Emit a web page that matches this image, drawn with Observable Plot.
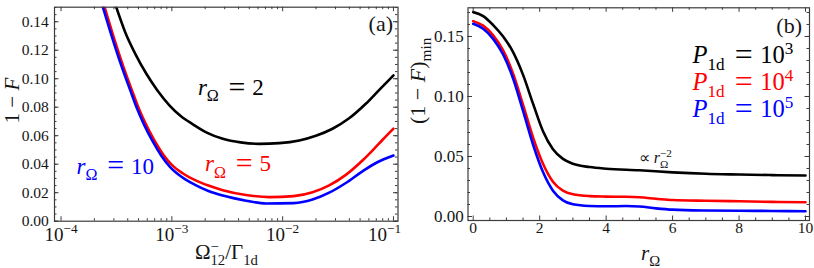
<!DOCTYPE html>
<html><head><meta charset="utf-8">
<script src="https://cdn.jsdelivr.net/npm/d3@7"></script>
<script src="https://cdn.jsdelivr.net/npm/@observablehq/plot@0.6"></script>
<style>
html,body{margin:0;padding:0;background:#fff;}
#fig{display:flex;width:814px;height:268px;overflow:hidden;}
#fig svg{overflow:visible;}
</style></head><body><div id="fig"></div>
<script>
// ---------- Panel (a): 1-F vs Omega/Gamma (log x) ----------
const aSeries = ["rΩ = 2", "rΩ = 5", "rΩ = 10"];
const aColors = ["#000000", "#ff0000", "#0000ff"];
const aLogX_r2  = [-3.505,-3.42,-3.33,-3.23,-3.13,-3.02,-2.92,-2.81,-2.68,-2.54,-2.38,-2.21,-2.03,-1.85,-1.70,-1.55,-1.40,-1.25,-1.13,-1.00];
const aVal_r2   = [0.1510,0.1325,0.1175,0.1035,0.0918,0.0812,0.0738,0.0680,0.0620,0.0578,0.0553,0.0543,0.0548,0.0567,0.0600,0.0649,0.0722,0.0824,0.0920,0.1023];
const aLogX_r5  = [-3.61,-3.52,-3.44,-3.36,-3.30,-3.24,-3.16,-3.08,-3.00,-2.90,-2.79,-2.67,-2.54,-2.33,-2.12,-1.90,-1.73,-1.58,-1.43,-1.28,-1.19,-1.10,-1.00];
const aVal_r5   = [0.1510,0.1280,0.1090,0.0918,0.0795,0.0690,0.0570,0.0470,0.0395,0.0335,0.0288,0.0250,0.0218,0.0184,0.0169,0.0176,0.0203,0.0251,0.0325,0.0426,0.0496,0.0570,0.0650];
const aLogX_r10 = [-3.625,-3.535,-3.455,-3.375,-3.315,-3.255,-3.175,-3.095,-3.015,-2.91,-2.79,-2.67,-2.54,-2.33,-2.15,-1.90,-1.73,-1.58,-1.43,-1.28,-1.15,-1.00];
const aVal_r10  = [0.1510,0.1280,0.1090,0.0918,0.0792,0.0685,0.0563,0.0460,0.0380,0.0310,0.0255,0.0212,0.0180,0.0144,0.0124,0.0127,0.0152,0.0200,0.0268,0.0350,0.0412,0.0461];
const aXTicks = [1e-4, 1e-3, 1e-2, 1e-1];
const aXTickLabels = ["10^−4", "10^−3", "10^−2", "10^−1"];
const aYTicks = [0, 0.02, 0.04, 0.06, 0.08, 0.10, 0.12, 0.14];

// ---------- Panel (b): (1-F)min vs r_Omega ----------
const bSeries = ["P1d = 10^3", "P1d = 10^4", "P1d = 10^5"];
const bColors = ["#000000", "#ff0000", "#0000ff"];
const bR_p3 = [0,0.3,0.6,0.9,1.2,1.5,1.8,2.1,2.4,2.7,3.0,3.5,4.0,5.0,6.0,7.0,8.0,9.0,10];
const bV_p3 = [0.1703,0.1670,0.1595,0.1500,0.1370,0.1180,0.0940,0.0710,0.0560,0.0480,0.0440,0.0412,0.0398,0.0385,0.0368,0.0356,0.0350,0.0345,0.0342];
const bR_p4 = [0,0.3,0.6,0.9,1.2,1.5,1.8,2.1,2.4,2.7,3.0,3.5,4.0,4.6,5.0,5.5,6.0,7.0,8.0,9.0,10];
const bV_p4 = [0.1628,0.1590,0.1510,0.1385,0.1190,0.0930,0.0660,0.0440,0.0290,0.0215,0.0185,0.0170,0.0166,0.0164,0.0160,0.0148,0.0137,0.0131,0.0127,0.0122,0.0119];
const bR_p5 = [0,0.3,0.6,0.9,1.2,1.5,1.8,2.1,2.4,2.7,3.0,3.5,4.0,4.6,5.0,5.5,6.0,7.0,8.0,9.0,10];
const bV_p5 = [0.1606,0.1565,0.1480,0.1350,0.1150,0.0880,0.0600,0.0370,0.0215,0.0135,0.0102,0.0088,0.0085,0.0087,0.0083,0.0068,0.0057,0.0050,0.0048,0.0046,0.0044];
const bXTicks = [0, 2, 4, 6, 8, 10];
const bYTicks = [0, 0.05, 0.10, 0.15];

// ---------- rich-text definitions (sub/superscripts, italics) ----------
const EQ = {t: "=", dx: 0.42, size: 1.3, base: 0.07};
const RICH = {
  "rΩ = 2":  [{t:"r",i:1},{t:"Ω",sub:1},EQ,{t:"2",dx:0.3}],
  "rΩ = 5":  [{t:"r",i:1},{t:"Ω",sub:1},EQ,{t:"5",dx:0.3}],
  "rΩ = 10": [{t:"r",i:1},{t:"Ω",sub:1},EQ,{t:"10",dx:0.3}],
  "P1d = 10^3": [{t:"P",i:1},{t:"1d",sub:1},EQ,{t:"10",dx:0.3},{t:"3",sup:1}],
  "P1d = 10^4": [{t:"P",i:1},{t:"1d",sub:1},EQ,{t:"10",dx:0.3},{t:"4",sup:1}],
  "P1d = 10^5": [{t:"P",i:1},{t:"1d",sub:1},EQ,{t:"10",dx:0.3},{t:"5",sup:1}],
  "1 − F": [{t:"1 − "},{t:"F",i:1}],
  "(1 − F)min": [{t:"(1 − "},{t:"F",i:1},{t:")"},{t:"min",sub:1}],
  "Ω−12/Γ1d": [{t:"Ω"},{t:"−",sup:1},{t:"12",sub:1,stack:1},{t:"/Γ"},{t:"1d",sub:1}],
  "rΩ": [{t:"r",i:1},{t:"Ω",sub:1}],
  "∝ rΩ^−2": [{t:"∝ "},{t:"r",i:1},{t:"−2",sup:1},{t:"Ω",sub:1,stack:1}]
};

const FONT = "Liberation Serif";
const FRAME = "#3c3c3c";
const TXT = "#151515";
const W = 407, H = 268;

function minorLog() {
  const out = [];
  for (const d of [-4, -3, -2]) for (let k = 2; k <= 9; k++) out.push(k * 10 ** d);
  return out;
}
function range(a, b, s) { const o = []; for (let v = a; v <= b + 1e-9; v += s) o.push(+v.toFixed(6)); return o; }

function tickMarks(xMaj, xMin, yMaj, yMin, iw, ih) {
  const L = 4.5, l = 2.5, st = {stroke: FRAME, strokeWidth: 1};
  return [
    Plot.ruleX(xMaj, {x: d => d, insetTop: ih - L, ...st}),
    Plot.ruleX(xMaj, {x: d => d, insetBottom: ih - L, ...st}),
    Plot.ruleX(xMin, {x: d => d, insetTop: ih - l, ...st}),
    Plot.ruleX(xMin, {x: d => d, insetBottom: ih - l, ...st}),
    Plot.ruleY(yMaj, {y: d => d, insetRight: iw - L, ...st}),
    Plot.ruleY(yMaj, {y: d => d, insetLeft: iw - L, ...st}),
    Plot.ruleY(yMin, {y: d => d, insetRight: iw - l, ...st}),
    Plot.ruleY(yMin, {y: d => d, insetLeft: iw - l, ...st})
  ];
}

// ----- build panel (a)
const aM = {top: 6.7, right: 9.5, bottom: 47.3, left: 54};
const aIW = W - aM.left - aM.right, aIH = H - aM.top - aM.bottom;
const aData = [
  ...aLogX_r2.map((l, i) => ({x: 10 ** l, y: aVal_r2[i], s: aSeries[0]})),
  ...aLogX_r5.map((l, i) => ({x: 10 ** l, y: aVal_r5[i], s: aSeries[1]})),
  ...aLogX_r10.map((l, i) => ({x: 10 ** l, y: aVal_r10[i], s: aSeries[2]}))
];
const aLabels = [
  {x: 10 ** -2.765, y: 0.0885, s: aSeries[0]},
  {x: 10 ** -2.70, y: 0.0350, s: aSeries[1]},
  {x: 10 ** -3.86, y: 0.0333, s: aSeries[2]}
];
const plotA = Plot.plot({
  width: W, height: H,
  marginTop: aM.top, marginRight: aM.right, marginBottom: aM.bottom, marginLeft: aM.left,
  x: {type: "log", domain: [10 ** -4.059, 10 ** -0.959], axis: null},
  y: {domain: [0, 0.1502], axis: null},
  color: {domain: aSeries, range: aColors},
  style: {fontFamily: FONT, color: TXT, background: "white", overflow: "visible"},
  marks: [
    Plot.line(aData, {x: "x", y: "y", z: "s", stroke: "s", strokeWidth: 2.6, curve: "monotone-x", clip: true}),
    Plot.frame({stroke: FRAME, strokeWidth: 1.2}),
    ...tickMarks(aXTicks, minorLog(), aYTicks, range(0, 0.15, 0.005), aIW, aIH),
    Plot.text(aLabels, {x: "x", y: "y", text: "s", fill: "s", textAnchor: "start", lineAnchor: "bottom", fontSize: 23}),
    Plot.text(["(a)"], {frameAnchor: "top-right", text: d => d, dx: -5, dy: 23.5, lineAnchor: "bottom", textAnchor: "end", fontSize: 22, fill: TXT}),
    // tick labels
    Plot.text(aYTicks, {y: d => d, text: d => d3.format(".2f")(d), frameAnchor: "left", textAnchor: "end", lineAnchor: "middle", dx: -5.7, fontSize: 15.5, fill: TXT}),
    Plot.text(aXTicks.slice(0, 3), {x: d => d, text: (d, i) => aXTickLabels[i], frameAnchor: "bottom", lineAnchor: "bottom", dy: 19.5, fontSize: 19, fill: TXT}),
    Plot.text(aXTicks.slice(3), {x: d => d, text: () => aXTickLabels[3], frameAnchor: "bottom", lineAnchor: "bottom", dy: 19.5, dx: -9, fontSize: 19, fill: TXT}),
    // axis labels
    Plot.text(["Ω−12/Γ1d"], {x: () => 10 ** -2.508, text: d => d, frameAnchor: "bottom", lineAnchor: "bottom", dy: 38, fontSize: 21, fill: TXT}),
    Plot.text(["1 − F"], {y: () => 0.0686, text: d => d, frameAnchor: "left", rotate: -90, lineAnchor: "middle", dx: -42.5, fontSize: 21, fill: TXT})
  ]
});

// ----- build panel (b)
const bM = {top: 7.3, right: 5, bottom: 48, left: 60.5};
const bIW = W - bM.left - bM.right, bIH = H - bM.top - bM.bottom;
const bData = [
  ...bR_p3.map((r, i) => ({x: r, y: bV_p3[i], s: bSeries[0]})),
  ...bR_p4.map((r, i) => ({x: r, y: bV_p4[i], s: bSeries[1]})),
  ...bR_p5.map((r, i) => ({x: r, y: bV_p5[i], s: bSeries[2]}))
];
const bLegend = [
  {y: 0.1275, s: bSeries[0]},
  {y: 0.1050, s: bSeries[1]},
  {y: 0.0825, s: bSeries[2]}
];
const plotB = Plot.plot({
  width: W, height: H,
  marginTop: bM.top, marginRight: bM.right, marginBottom: bM.bottom, marginLeft: bM.left,
  x: {domain: [-0.157, 10.12], axis: null},
  y: {domain: [-0.00333, 0.1739], axis: null},
  color: {domain: bSeries, range: bColors},
  style: {fontFamily: FONT, color: TXT, background: "white", overflow: "visible"},
  marks: [
    Plot.line(bData, {x: "x", y: "y", z: "s", stroke: "s", strokeWidth: 2.6, curve: "monotone-x", clip: true}),
    Plot.frame({stroke: FRAME, strokeWidth: 1.2}),
    ...tickMarks(bXTicks, range(0.5, 9.5, 0.5).filter(v => v % 2 !== 0), bYTicks, range(0.01, 0.17, 0.01), bIW, bIH),
    Plot.text(bLegend, {x: () => 9.63, y: "y", text: "s", fill: "s", textAnchor: "end", lineAnchor: "bottom", fontSize: 24.5}),
    Plot.text(["∝ rΩ^−2"], {x: () => 4.98, y: () => 0.0442, text: d => d, textAnchor: "start", lineAnchor: "bottom", fontSize: 16, fill: TXT}),
    Plot.text(["(b)"], {frameAnchor: "top-right", text: d => d, dx: -7.5, dy: 25, lineAnchor: "bottom", textAnchor: "end", fontSize: 22, fill: TXT}),
    // tick labels
    Plot.text(bYTicks, {y: d => d, text: d => d3.format(".2f")(d), frameAnchor: "left", textAnchor: "end", lineAnchor: "middle", dx: -4.2, fontSize: 17, fill: TXT}),
    Plot.text(bXTicks, {x: d => d, text: d => String(d), frameAnchor: "bottom", lineAnchor: "bottom", dy: 12, fontSize: 15.5, fill: TXT}),
    // axis labels
    Plot.text(["rΩ"], {x: () => 5.34, text: d => d, frameAnchor: "bottom", lineAnchor: "bottom", dy: 39.5, fontSize: 21, fill: TXT}),
    Plot.text(["(1 − F)min"], {y: () => 0.0771, text: d => d, frameAnchor: "left", rotate: -90, lineAnchor: "middle", dx: -50, fontSize: 22, fill: TXT})
  ]
});

const fig = document.getElementById("fig");
fig.appendChild(plotA);
fig.appendChild(plotB);

// ---------- convert markup strings to real sub/superscript tspans ----------
const NS = "http://www.w3.org/2000/svg";
function richFor(s) {
  if (RICH[s]) return RICH[s];
  const m = /^10\^(.+)$/.exec(s);
  if (m) return [{t: "10"}, {t: m[1], sup: 1}];
  return null;
}
function setRich(el, parts) {
  const fs = parseFloat(getComputedStyle(el).fontSize);
  el.textContent = "";
  let shift = 0, prevSup = null;
  for (const seg of parts) {
    const ts = document.createElementNS(NS, "tspan");
    ts.textContent = seg.t;
    let size = fs, target = 0;
    if (seg.sup) { size = 0.7 * fs; target = -0.4 * fs; }
    if (seg.sub) { size = 0.7 * fs; target = 0.27 * fs; }
    if (seg.size) size = seg.size * fs;
    if (seg.base) target += seg.base * fs;
    ts.setAttribute("font-size", size);
    if (target - shift) ts.setAttribute("dy", target - shift);
    shift = target;
    if (seg.i) ts.setAttribute("font-style", "italic");
    el.appendChild(ts);
    let dx = (seg.dx || 0) * fs;
    if (seg.stack && prevSup) dx -= prevSup.getComputedTextLength();
    if (dx) ts.setAttribute("dx", dx);
    prevSup = seg.sup ? ts : null;
  }
}
for (const svg of [plotA, plotB]) {
  for (const el of svg.querySelectorAll("text")) {
    const parts = richFor(el.textContent);
    if (parts) setRich(el, parts);
  }
}
</script>
</body></html>
